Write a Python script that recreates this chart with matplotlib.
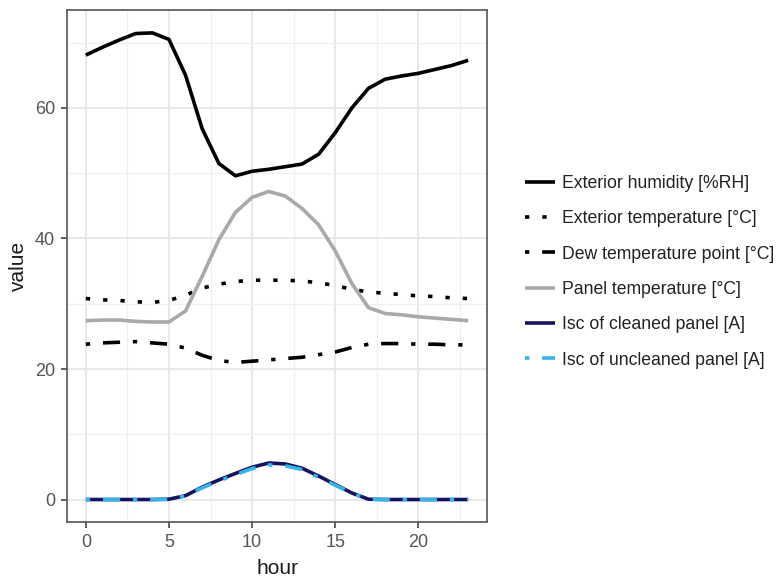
import matplotlib
matplotlib.use("Agg")
import matplotlib.pyplot as plt
from matplotlib.ticker import MultipleLocator

plt.rcParams['font.family'] = ['Liberation Sans', 'DejaVu Sans']

hours = list(range(24))
humidity = [68.1, 69.3, 70.4, 71.4, 71.5, 70.5, 65.0, 56.8, 51.5, 49.6, 50.3, 50.6,
            51.0, 51.4, 52.9, 56.2, 60.0, 63.0, 64.4, 64.9, 65.3, 65.9, 66.5, 67.3]
ext_temp = [30.8, 30.6, 30.5, 30.3, 30.2, 30.5, 31.3, 32.4, 33.0, 33.4, 33.6, 33.6,
            33.6, 33.5, 33.2, 32.8, 32.2, 31.8, 31.6, 31.4, 31.2, 31.1, 30.9, 30.8]
dew_temp = [23.8, 24.0, 24.1, 24.2, 24.0, 23.8, 23.2, 22.1, 21.3, 21.0, 21.2, 21.4,
            21.6, 21.8, 22.2, 22.6, 23.3, 23.8, 23.9, 23.9, 23.8, 23.8, 23.7, 23.7]
panel_temp = [27.4, 27.5, 27.5, 27.3, 27.2, 27.2, 28.9, 34.2, 39.8, 44.0, 46.3, 47.2,
              46.5, 44.6, 42.1, 38.1, 33.1, 29.4, 28.5, 28.3, 28.0, 27.8, 27.6, 27.4]
isc_clean = [0, 0, 0, 0, 0, 0.05, 0.6, 1.9, 3.0, 4.0, 4.95, 5.6,
             5.45, 4.8, 3.6, 2.3, 1.0, 0.05, 0, 0, 0, 0, 0, 0]
isc_unclean = [0, 0, 0, 0, 0, 0.05, 0.55, 1.8, 2.85, 3.8, 4.75, 5.3,
               5.15, 4.6, 3.4, 2.2, 0.95, 0.05, 0, 0, 0, 0, 0, 0]
labels = ["Exterior humidity [%RH]", "Exterior temperature [°C]",
          "Dew temperature point [°C]", "Panel temperature [°C]",
          "Isc of cleaned panel [A]", "Isc of uncleaned panel [A]"]

fig = plt.figure(figsize=(7.82, 5.77), dpi=100)
ax = fig.add_axes([0.0853, 0.0958, 0.5379, 0.8868])

lw = 2.6
dotted = (0, (1.2, 3.6))
dotdash = (0, (1.2, 3.55, 4.75, 3.55))
series = [
    (humidity, 'black', '-'),
    (ext_temp, 'black', dotted),
    (dew_temp, 'black', dotdash),
    (panel_temp, '#a9a9a9', '-'),
    (isc_clean, '#15155e', '-'),
    (isc_unclean, '#36b4ea', dotdash),
]
handles = []
for (vals, col, ls), lab in zip(series, labels):
    h, = ax.plot(hours, vals, color=col, linestyle=ls, lw=lw, label=lab,
                 dash_capstyle='butt', solid_capstyle='butt', solid_joinstyle='round')
    handles.append(h)

ax.set_xlim(-1.15, 24.15)
ax.set_ylim(-3.4, 75.0)
ax.xaxis.set_major_locator(MultipleLocator(5))
ax.xaxis.set_minor_locator(MultipleLocator(2.5))
ax.yaxis.set_major_locator(MultipleLocator(20))
ax.yaxis.set_minor_locator(MultipleLocator(10))
ax.grid(which='major', color='#e6e6e6', lw=1.3)
ax.grid(which='minor', color='#f0f0f0', lw=0.9)
ax.set_axisbelow(True)
for s in ax.spines.values():
    s.set_color('#555555')
    s.set_linewidth(1.2)
ax.tick_params(which='major', length=4.5, width=1.2, color='#444444',
               labelsize=13, labelcolor='#555555', pad=4)
ax.tick_params(which='minor', length=0)
ax.set_xlabel('hour', fontsize=15, color='#1a1a1a', labelpad=6)
ax.set_ylabel('value', fontsize=15, color='#1a1a1a', labelpad=5)

fig.legend(handles=handles, labels=labels, loc='center left',
           bbox_to_anchor=(0.671, 0.529), frameon=False, fontsize=12.7,
           handlelength=1.7, handletextpad=0.4, labelspacing=1.04, borderpad=0,
           borderaxespad=0, labelcolor='#222222')

fig.savefig('out.png', dpi=100)
